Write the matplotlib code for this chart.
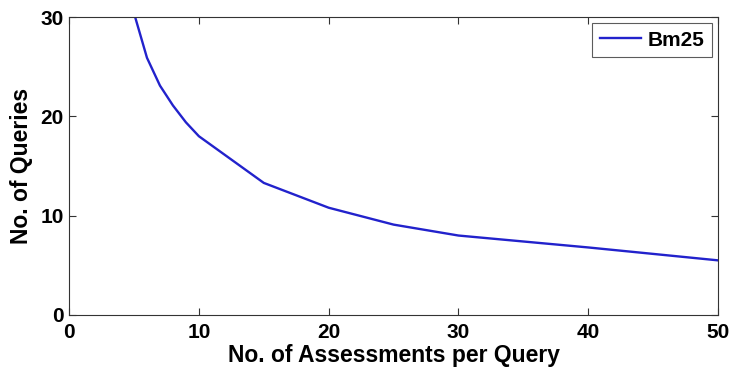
import matplotlib

matplotlib.use("Agg")
import matplotlib.pyplot as plt

# Number of queries needed vs. assessments per query
assessments = [5, 6, 7, 8, 9, 10, 15, 20, 25, 30, 40, 50]
queries_bm25 = [30.4, 25.9, 23.1, 21.1, 19.4, 18.0, 13.3, 10.8, 9.1, 8.0, 6.8, 5.5]

x_ticks = [0, 10, 20, 30, 40, 50]
y_ticks = [0, 10, 20, 30]

plt.rcParams["font.family"] = ["Liberation Sans", "DejaVu Sans"]
plt.rcParams["font.weight"] = "bold"

fig = plt.figure(figsize=(7.35, 3.71), dpi=100)
ax = fig.add_axes([0.094, 0.151, 0.883, 0.803])

ax.plot(assessments, queries_bm25, color="#2222cc", linewidth=1.7, label="Bm25")

ax.set_xlim(0, 50)
ax.set_ylim(0, 30)
ax.set_xticks(x_ticks)
ax.set_yticks(y_ticks)
ax.tick_params(direction="in", top=True, right=True, length=5, width=0.8,
               labelsize=15, color="#333333")
ax.tick_params(axis="x", pad=6)
ax.tick_params(axis="y", pad=4)
for lbl in ax.get_xticklabels() + ax.get_yticklabels():
    lbl.set_fontweight("bold")
for spine in ax.spines.values():
    spine.set_linewidth(0.8)
    spine.set_color("#333333")

ax.set_xlabel("No. of Assessments per Query", fontsize=16.5, fontweight="bold", labelpad=1)
ax.set_ylabel("No. of Queries", fontsize=16.5, fontweight="bold", labelpad=5)

leg = ax.legend(loc="upper right", fontsize=15, frameon=True, fancybox=False,
                borderpad=0.35, handlelength=2.0, handletextpad=0.3,
                borderaxespad=0.3)
leg.get_frame().set_edgecolor("#333333")
leg.get_frame().set_linewidth(0.8)
for t in leg.get_texts():
    t.set_fontweight("bold")

fig.savefig("out.png", dpi=100)
